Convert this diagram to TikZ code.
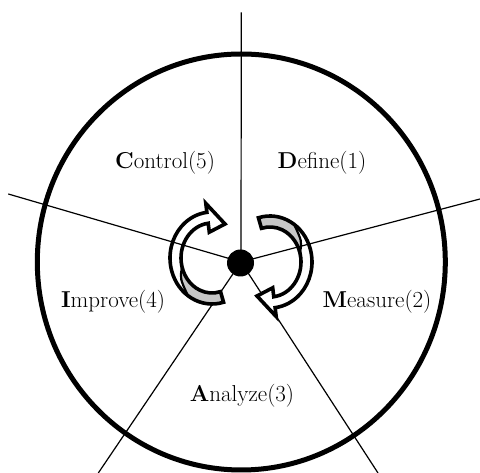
\documentclass[tikz,border=0pt]{standalone}
\usetikzlibrary{calc}
\tikzset{
  ringline/.style={line width=5pt},
  spoke/.style={line width=1.2pt},
  lbl/.style={font=\fontsize{23}{27}\selectfont, inner sep=0pt},
  hubdot/.style={circle, fill=black, minimum size=27pt, inner sep=0pt},
  bandline/.style={draw=black, line width=3.6pt, line join=miter},
  crescent/.style={fill=black!22},
  pics/cyclearrow/.style={code={
    \fill[white] (286:42 and 46) arc[start angle=286,end angle=97,x radius=42,y radius=46]
       -- (-6.2,54.6) -- (13,34) -- (-2.7,25.8) -- (97:31 and 35)
       arc[start angle=97,end angle=286,x radius=31,y radius=35] -- cycle;
    \fill[crescent] (286:42 and 46) arc[start angle=286,end angle=235,x radius=42,y radius=46]
       .. controls (210:37 and 41) .. (195:31 and 35)
       arc[start angle=195,end angle=286,x radius=31,y radius=35] -- cycle;
    \draw[line width=2.2pt] (235:42 and 46) .. controls (210:37 and 41) .. (195:31 and 35);
    \draw[bandline] (286:42 and 46) arc[start angle=286,end angle=97,x radius=42,y radius=46]
       -- (-6.2,54.6) -- (13,34) -- (-2.7,25.8) -- (97:31 and 35)
       arc[start angle=97,end angle=286,x radius=31,y radius=35] -- cycle;
  }}
}
\begin{document}
\begin{tikzpicture}[x=1pt,y=1pt]
\useasboundingbox (0,0) rectangle (480,473);
\fill[white] (0,0) rectangle (480,473);
\coordinate (hub) at (241,211);
\coordinate (ptop) at (241.3,460.7);
\coordinate (pleft) at (8.3,279);
\coordinate (pright) at (480,274);
\coordinate (pbl) at (98.3,0);
\coordinate (pbr) at (378,0);
% outer circle
\draw[ringline] (241.3,211) ellipse[x radius=204, y radius=208];
% spokes behind the arrows
\draw[spoke] (hub) -- (ptop);
\draw[spoke] (hub) -- (pbl);
\draw[spoke] (hub) -- (pbr);
% cycle arrows
\pic at (212,215) {cyclearrow};
\pic[rotate=180] at (270,211) {cyclearrow};
% spokes over the arrows
\draw[spoke] (hub) -- (pleft);
\draw[spoke] (hub) -- (pright);
\node[hubdot] (centerdot) at (240.5,210) {};
% labels
\node[lbl] (control) at (165,310) {\textbf{C}ontrol(5)};
\node[lbl] (define) at (322,310) {\textbf{D}efine(1)};
\node[lbl] (improve) at (113,171) {\textbf{I}mprove(4)};
\node[lbl] (measure) at (377,171) {\textbf{M}easure(2)};
\node[lbl] (analyze) at (242,77) {\textbf{A}nalyze(3)};
\end{tikzpicture}
\end{document}
